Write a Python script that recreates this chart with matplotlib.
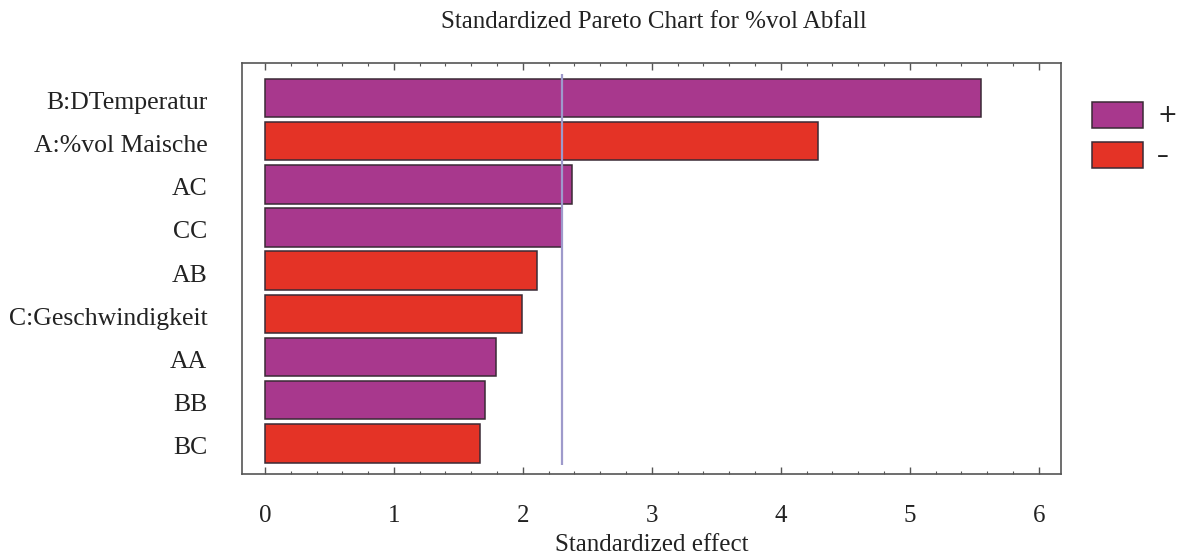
import matplotlib
matplotlib.use("Agg")
import matplotlib.pyplot as plt
import matplotlib.transforms as mtransforms
from matplotlib.patches import Rectangle

# Effects, ordered from largest to smallest standardized effect
terms = ["B:DTemperatur", "A:%vol Maische", "AC", "CC", "AB",
         "C:Geschwindigkeit", "AA", "BB", "BC"]
effects = [5.55, 4.29, 2.38, 2.30, 2.11, 1.99, 1.79, 1.71, 1.67]
signs = ["+", "-", "+", "+", "-", "-", "+", "+", "-"]
critical_value = 2.306

title = "Standardized Pareto Chart for %vol Abfall"
xlabel = "Standardized effect"
xticks = [0, 1, 2, 3, 4, 5, 6]

POS = "#A8388D"
NEG = "#E43326"
colors = {"+": POS, "-": NEG}

serif = "Liberation Serif"
TEXT = "#222222"

fig = plt.figure(figsize=(11.85, 5.55), dpi=100)
ax = fig.add_axes([242 / 1185, 1 - 474 / 555, (1061 - 242) / 1185, (474 - 63) / 555])

ypos = list(range(len(terms)))
ax.barh(ypos, effects, height=0.89, left=0,
        color=[colors[s] for s in signs], edgecolor="#3a2a35", linewidth=1.1,
        zorder=2)
ax.vlines(critical_value, -0.56, len(terms) - 0.5, color="#9E9ACB",
          linewidth=1.6, zorder=3)

ax.set_xlim(-0.178, 6.173)
ax.set_ylim(len(terms) - 0.29, -0.81)

ax.set_yticks(ypos)
ax.set_yticklabels(terms, family=serif, fontsize=18.5, color=TEXT)
ax.tick_params(axis="y", length=0, pad=25)
# nudge the term labels slightly below the bar centres
shift = mtransforms.ScaledTranslation(0, -2.5 / 100, fig.dpi_scale_trans)
for lbl in ax.get_yticklabels():
    lbl.set_transform(lbl.get_transform() + shift)

ax.set_xticks(xticks)
ax.set_xticklabels([str(t) for t in xticks], family=serif, fontsize=18,
                   color=TEXT)
ax.xaxis.set_minor_locator(matplotlib.ticker.MultipleLocator(0.2))
ax.tick_params(axis="x", which="major", direction="in", length=5,
               width=1.0, top=True, bottom=True, pad=22.5, color="#555555")
ax.tick_params(axis="x", which="minor", direction="in", length=2.2,
               width=0.8, top=True, bottom=True, color="#555555")

for side, sp in ax.spines.items():
    sp.set_color("#555555")
    sp.set_linewidth(1.2)

fig.text(651.5 / 1185, 1 - 545 / 555, xlabel, family=serif, fontsize=18,
         color=TEXT, ha="center", va="center")
fig.text(654 / 1185, 1 - 22 / 555, title, family=serif, fontsize=18,
         color=TEXT, ha="center", va="center")

# Legend for the sign of each effect
legend_rows = [("+", 101.5, "+"), ("-", 142, "\u2013")]
for sign, top, label in legend_rows:
    fig.patches.append(Rectangle((1092 / 1185, 1 - (top + 26) / 555),
                                 51 / 1185, 26 / 555,
                                 transform=fig.transFigure,
                                 facecolor=colors[sign],
                                 edgecolor="#3a2a35", linewidth=1.1))
    fig.text(1157 / 1185, 1 - (top + 14) / 555, label,
             family="DejaVu Sans", fontsize=17, color=TEXT,
             ha="left", va="center")

fig.savefig("out.png", dpi=100)
